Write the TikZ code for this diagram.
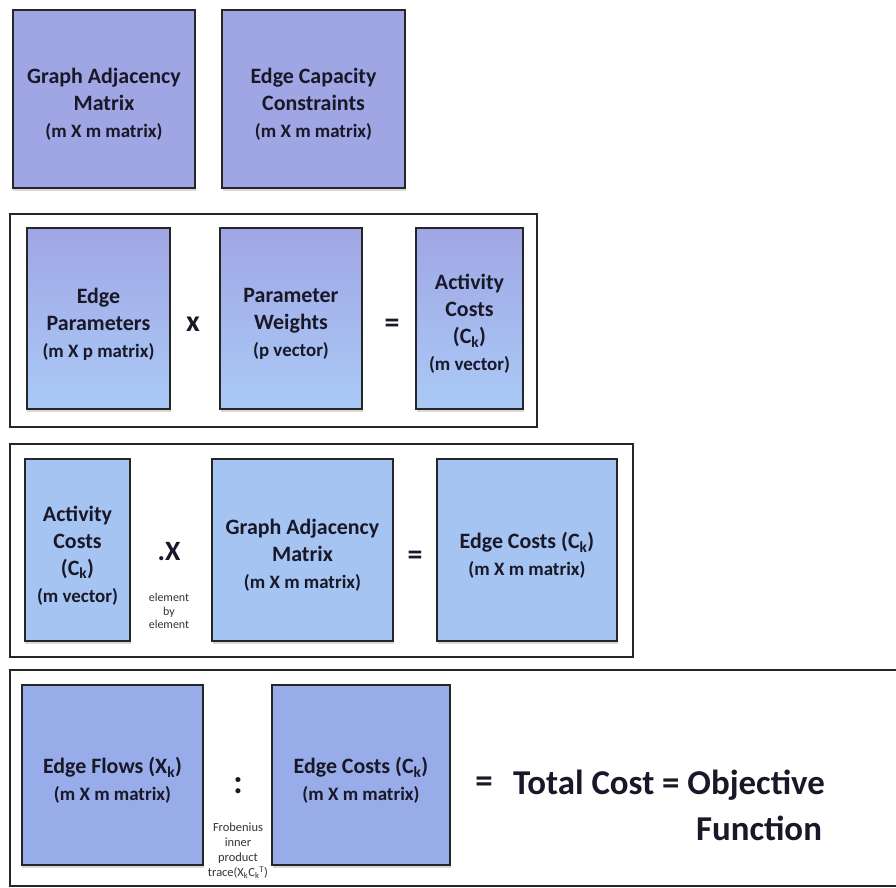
\documentclass[tikz,border=0pt]{standalone}
\usepackage{fontspec}
\setmainfont{Carlito}
\usetikzlibrary{shadows}

\definecolor{lavender}{RGB}{160,166,228}
\definecolor{skyblue}{RGB}{170,202,246}
\definecolor{paleblue}{RGB}{166,196,242}
\definecolor{flowblue}{RGB}{152,172,233}
\definecolor{ink}{RGB}{24,24,40}

\newcommand{\dimtext}{\fontsize{19}{24}\selectfont}

\begin{document}
\begin{tikzpicture}[x=1bp, y=-1bp,
    matbox/.style={rectangle, draw=black!85, line width=2.5bp, inner sep=0pt,
        drop shadow={shadow xshift=0.5bp, shadow yshift=-2.5bp, opacity=0.3}},
    gradbox/.style={matbox, top color=lavender, bottom color=skyblue},
    boxtext/.style={align=center, yshift=-5.5bp, text=ink, font=\bfseries\fontsize{22}{27}\selectfont},
    frame/.style={draw=black!85, line width=2bp},
    op/.style={text=ink, font=\bfseries\fontsize{30}{34}\selectfont},
    note/.style={align=center, text=black!80}
]
    \useasboundingbox (0,0) rectangle (896,888);

    % inputs
    \node[matbox, fill=lavender, minimum width=182bp, minimum height=178bp,
        label={[boxtext]center:{Graph Adjacency\\Matrix\\\dimtext (m X m matrix)}}] (adj) at (104,99) {};
    \node[matbox, fill=lavender, minimum width=183bp, minimum height=178bp,
        label={[boxtext]center:{Edge Capacity\\Constraints\\\dimtext (m X m matrix)}}] (cap) at (313.5,99) {};

    % activity costs from parameters
    \draw[frame] (10,214) rectangle (537,427);
    \node[gradbox, minimum width=143bp, minimum height=181bp,
        label={[boxtext]center:{Edge\\Parameters\\\dimtext (m X p matrix)}}] (param) at (98.5,318.5) {};
    \node[op] (times) at (193,324) {x};
    \node[gradbox, minimum width=142bp, minimum height=181bp,
        label={[boxtext]center:{Parameter\\Weights\\\dimtext (p vector)}}] (weight) at (291,318.5) {};
    \node[op] (eqa) at (392,326) {=};
    \node[gradbox, minimum width=107bp, minimum height=181bp,
        label={[boxtext]center:{Activity\\Costs\\(C\textsubscript{k})\\\dimtext (m vector)}}] (act) at (469.5,318.5) {};

    % edge costs
    \draw[frame] (10,444) rectangle (633,657);
    \node[matbox, fill=paleblue, minimum width=105bp, minimum height=182bp,
        label={[boxtext]center:{Activity\\Costs\\(C\textsubscript{k})\\\dimtext (m vector)}}] (actb) at (77.5,550) {};
    \node[op, font=\bfseries\fontsize{28}{32}\selectfont] (dotx) at (169,552) {.X};
    \node[note, font=\fontsize{12}{13.5}\selectfont] (elem) at (169,611) {element\\by\\element};
    \node[matbox, fill=paleblue, minimum width=181bp, minimum height=182bp,
        label={[boxtext]center:{Graph Adjacency\\Matrix\\\dimtext (m X m matrix)}}] (adjb) at (302.5,550) {};
    \node[op] (eqb) at (415,558) {=};
    \node[matbox, fill=paleblue, minimum width=180bp, minimum height=182bp,
        label={[boxtext]center:{Edge Costs (C\textsubscript{k})\\\dimtext (m X m matrix)}}] (ecost) at (527,550) {};

    % objective
    \draw[frame] (910,670) -- (10,670) -- (10,886) -- (910,886);
    \node[matbox, fill=flowblue, minimum width=181bp, minimum height=180bp,
        label={[boxtext]center:{Edge Flows (X\textsubscript{k})\\\dimtext (m X m matrix)}}] (flow) at (112.5,775) {};
    \node[op, font=\bfseries\fontsize{34}{38}\selectfont] (colon) at (238,786) {:};
    \node[note, font=\fontsize{12.5}{15}\selectfont] (frob) at (238,851)
        {Frobenius\\inner\\product\\trace(X\textsubscript{k}C\textsubscript{k}\textsuperscript{T})};
    \node[matbox, fill=flowblue, minimum width=178bp, minimum height=180bp,
        label={[boxtext]center:{Edge Costs (C\textsubscript{k})\\\dimtext (m X m matrix)}}] (ecostb) at (361,775) {};
    \node[op, font=\bfseries\fontsize{35}{40}\selectfont] (eqc) at (484,785) {=};
    \node[text=ink, font=\bfseries\fontsize{35}{40}\selectfont] (total) at (669,785) {Total Cost = Objective};
    \node[text=ink, font=\bfseries\fontsize{35}{40}\selectfont] (func) at (759,828) {Function};

\end{tikzpicture}
\end{document}
